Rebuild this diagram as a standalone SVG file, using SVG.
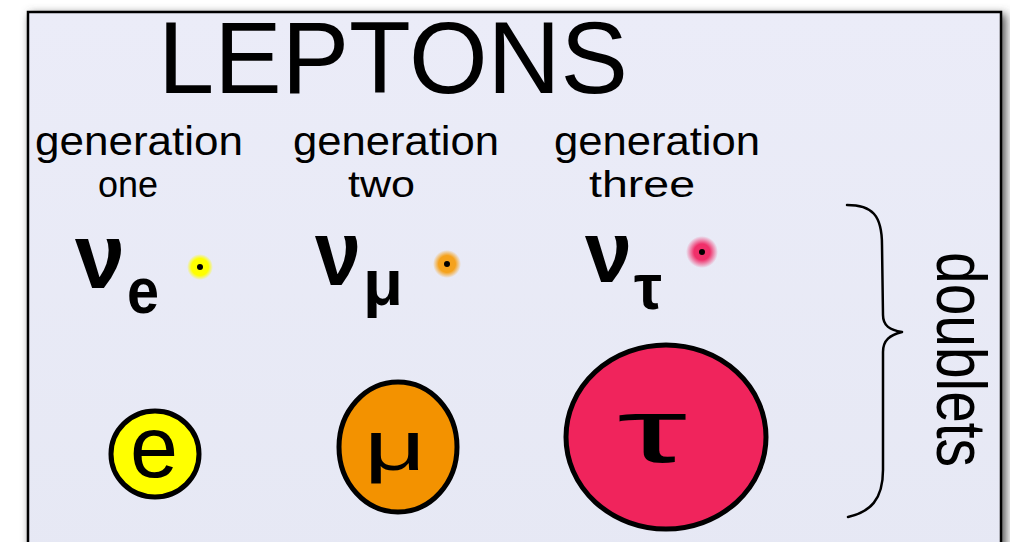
<svg xmlns="http://www.w3.org/2000/svg" width="1010" height="542" viewBox="0 0 1010 542">
  <defs>
    <filter id="shadow" x="-5%" y="-5%" width="110%" height="110%">
      <feGaussianBlur stdDeviation="5"/>
    </filter>
    <radialGradient id="gy">
      <stop offset="0" stop-color="#ffff00"/>
      <stop offset="0.65" stop-color="#ffff00"/>
      <stop offset="1" stop-color="#ffff00" stop-opacity="0"/>
    </radialGradient>
    <radialGradient id="go">
      <stop offset="0" stop-color="#f5a21c"/>
      <stop offset="0.6" stop-color="#f5a21c"/>
      <stop offset="1" stop-color="#f5a21c" stop-opacity="0"/>
    </radialGradient>
    <radialGradient id="gp">
      <stop offset="0" stop-color="#f0306a"/>
      <stop offset="0.5" stop-color="#f0306a"/>
      <stop offset="1" stop-color="#f0306a" stop-opacity="0"/>
    </radialGradient>
    <linearGradient id="bg" x1="0" y1="0" x2="0" y2="1">
      <stop offset="0" stop-color="#ebecf8"/>
      <stop offset="1" stop-color="#e6e8f4"/>
    </linearGradient>
  </defs>
  <style>
    text { font-family: "Liberation Sans", "DejaVu Sans", sans-serif; fill: #000; }
    .title { font-size: 102px; }
    .gen { font-size: 40px; }
    .gen2 { font-size: 36px; }
    .nu { font-size: 92px; font-weight: bold; }
    .sub { font-size: 64px; font-weight: bold; }
    .ball { stroke: #000; stroke-width: 5; }
    .in { font-size: 88px; }
    .brace { fill: none; stroke: #000; stroke-width: 2.5; stroke-linecap: round; stroke-linejoin: round; }
  </style>
  <rect x="0" y="0" width="1010" height="542" fill="#ffffff"/>
  <rect x="30" y="14" width="976" height="560" fill="#555" filter="url(#shadow)"/>
  <g id="frame">
    <rect x="28" y="12" width="973" height="560" fill="url(#bg)" stroke="#000" stroke-width="2.5"/>
  </g>
  <g id="title">
    <text class="title" x="158" y="93" textLength="470" lengthAdjust="spacingAndGlyphs">LEPTONS</text>
  </g>
  <g id="gen1">
    <text class="gen" x="35" y="155" textLength="208" lengthAdjust="spacingAndGlyphs">generation</text>
    <text class="gen2" x="98" y="197" textLength="60" lengthAdjust="spacingAndGlyphs">one</text>
  </g>
  <g id="gen2">
    <text class="gen" x="293" y="155" textLength="206" lengthAdjust="spacingAndGlyphs">generation</text>
    <text class="gen2" x="348" y="197" textLength="67" lengthAdjust="spacingAndGlyphs">two</text>
  </g>
  <g id="gen3">
    <text class="gen" x="554" y="155" textLength="206" lengthAdjust="spacingAndGlyphs">generation</text>
    <text class="gen2" x="589" y="197" textLength="106" lengthAdjust="spacingAndGlyphs">three</text>
  </g>
  <g id="nu-e">
    <text class="nu" x="75" y="288" textLength="50" lengthAdjust="spacingAndGlyphs">ν</text>
    <text class="sub" x="127" y="313" textLength="32" lengthAdjust="spacingAndGlyphs">e</text>
    <circle cx="200" cy="267" r="13" fill="url(#gy)"/>
    <circle cx="200" cy="267" r="3" fill="#000"/>
  </g>
  <g id="nu-mu">
    <text class="nu" x="315" y="285" textLength="46" lengthAdjust="spacingAndGlyphs">ν</text>
    <text class="sub" x="363" y="305" textLength="40" lengthAdjust="spacingAndGlyphs">μ</text>
    <circle cx="447" cy="264" r="14" fill="url(#go)"/>
    <circle cx="447" cy="264" r="3" fill="#000"/>
  </g>
  <g id="nu-tau">
    <text class="nu" x="585" y="282" textLength="47" lengthAdjust="spacingAndGlyphs" style="font-size:88px">ν</text>
    <text class="sub" x="634" y="309" textLength="28" lengthAdjust="spacingAndGlyphs">τ</text>
    <circle cx="702" cy="252" r="16" fill="url(#gp)"/>
    <circle cx="702" cy="252" r="3" fill="#000"/>
  </g>
  <g id="electron">
    <ellipse class="ball" cx="155" cy="454" rx="44" ry="43" fill="#ffff00"/>
    <text class="in" x="130" y="477" textLength="48" lengthAdjust="spacingAndGlyphs">e</text>
  </g>
  <g id="muon">
    <ellipse class="ball" cx="398" cy="447" rx="59" ry="65" fill="#f39200"/>
    <text class="in" x="364" y="470" textLength="62" lengthAdjust="spacingAndGlyphs" style="font-size:70px">μ</text>
  </g>
  <g id="tau">
    <ellipse class="ball" cx="666" cy="437" rx="100" ry="92" fill="#f0245c"/>
    <text class="in" x="617" y="462" textLength="70" lengthAdjust="spacingAndGlyphs" style="font-size:90px">τ</text>
  </g>
  <g id="connectors">
    <path class="brace" d="M847,205 C872,205 882,215 882,245 L883,315 C883,326 890,330 902,332 C890,335 883,340 883,352 L883,470 C883,500 870,512 848,517"/>
  </g>
  <g id="doublets">
    <text transform="translate(937,252) rotate(90)" x="0" y="0" style="font-size:70px" textLength="215" lengthAdjust="spacingAndGlyphs">doublets</text>
  </g>
</svg>
